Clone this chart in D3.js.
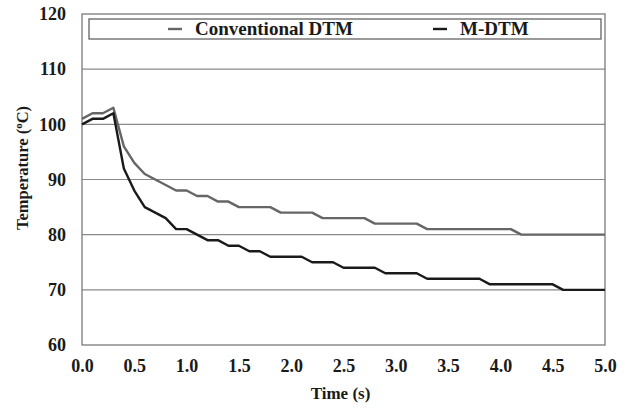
<!DOCTYPE html>
<html>
<head>
<meta charset="utf-8">
<script src="https://cdn.jsdelivr.net/npm/d3@7"></script>
<style>
  body { margin: 0; background: #fff; }
  text { font-family: "Liberation Serif", "Times New Roman", serif; font-weight: bold; fill: #1a1a1a; }
</style>
</head>
<body>
<div id="chart"></div>
<script>
// ====================== data
var times = d3.range(0, 51).map(function (i) { return i / 10; });
var conventional = [101, 102, 102, 103, 96, 93, 91, 90, 89, 88,
    88, 87, 87, 86, 86, 85, 85, 85, 85, 84,
    84, 84, 84, 83, 83, 83, 83, 83, 82, 82,
    82, 82, 82, 81, 81, 81, 81, 81, 81, 81,
    81, 81, 80, 80, 80, 80, 80, 80, 80, 80, 80];
var mdtm = [100, 101, 101, 102, 92, 88, 85, 84, 83, 81,
    81, 80, 79, 79, 78, 78, 77, 77, 76, 76,
    76, 76, 75, 75, 75, 74, 74, 74, 74, 73,
    73, 73, 73, 72, 72, 72, 72, 72, 72, 71,
    71, 71, 71, 71, 71, 71, 70, 70, 70, 70, 70];
var xTicks = [0, 0.5, 1, 1.5, 2, 2.5, 3, 3.5, 4, 4.5, 5];
var yTicks = [60, 70, 80, 90, 100, 110, 120];
var seriesNames = ['Conventional DTM', 'M-DTM'];

// ====================== layout
var W = 633, H = 409;
var m = { left: 82, right: 605, top: 14, bottom: 345 };

var svg = d3.select('#chart').append('svg')
    .attr('width', W)
    .attr('height', H);

var x = d3.scaleLinear().domain([0, 5]).range([m.left, m.right]);
var y = d3.scaleLinear().domain([60, 120]).range([m.bottom, m.top]);

// gridlines
svg.append('g')
    .selectAll('line')
    .data(yTicks.filter(function (d) { return d > 60 && d < 120; }))
    .enter().append('line')
    .attr('x1', m.left).attr('x2', m.right)
    .attr('y1', function (d) { return y(d); })
    .attr('y2', function (d) { return y(d); })
    .attr('stroke', '#8a8a8a')
    .attr('stroke-width', 1.2);

// plot border
svg.append('rect')
    .attr('x', m.left).attr('y', m.top)
    .attr('width', m.right - m.left).attr('height', m.bottom - m.top)
    .attr('fill', 'none')
    .attr('stroke', '#7a7a7a')
    .attr('stroke-width', 1.3);

// axes (labels only)
var yAxis = svg.append('g')
    .attr('transform', 'translate(' + m.left + ',0)')
    .call(d3.axisLeft(y).tickValues(yTicks).tickSize(0).tickPadding(16).tickFormat(d3.format('d')));
var xAxis = svg.append('g')
    .attr('transform', 'translate(0,' + m.bottom + ')')
    .call(d3.axisBottom(x).tickValues(xTicks).tickSize(0).tickPadding(14).tickFormat(d3.format('.1f')));
[yAxis, xAxis].forEach(function (a) {
    a.select('.domain').remove();
    a.selectAll('text')
        .style('font-family', '"Liberation Serif", serif')
        .style('font-weight', 'bold')
        .style('font-size', '18px')
        .attr('fill', '#1a1a1a');
});

// titles
svg.append('text')
    .attr('x', (m.left + m.right) / 2 - 3)
    .attr('y', 399)
    .attr('text-anchor', 'middle')
    .style('font-size', '17px')
    .text('Time (s)');

var yt = svg.append('text')
    .attr('transform', 'translate(28,168) rotate(-90)')
    .attr('text-anchor', 'middle')
    .style('font-size', '16.5px');
yt.append('tspan').text('Temperature (');
yt.append('tspan').attr('dy', -6).style('font-size', '11px').text('o');
yt.append('tspan').attr('dy', 6).text('C)');

// lines
var colors = ['#666666', '#1a1a1a'];
var line = d3.line()
    .x(function (d, i) { return x(times[i]); })
    .y(function (d) { return y(d); });

[conventional, mdtm].forEach(function (s, k) {
    svg.append('path')
        .datum(s)
        .attr('d', line)
        .attr('fill', 'none')
        .attr('stroke', colors[k])
        .attr('stroke-width', 2.4)
        .attr('stroke-linejoin', 'round');
});

// legend
svg.append('rect')
    .attr('x', 89).attr('y', 19)
    .attr('width', 512).attr('height', 20)
    .attr('fill', '#fff')
    .attr('stroke', '#555')
    .attr('stroke-width', 1.2);

var legX = [168, 433];
seriesNames.forEach(function (name, k) {
    svg.append('line')
        .attr('x1', legX[k]).attr('x2', legX[k] + 14)
        .attr('y1', 29).attr('y2', 29)
        .attr('stroke', colors[k])
        .attr('stroke-width', 2.4);
    svg.append('text')
        .attr('x', legX[k] + 27)
        .attr('y', 35)
        .style('font-size', '19px')
        .text(name);
});
</script>
</body>
</html>
